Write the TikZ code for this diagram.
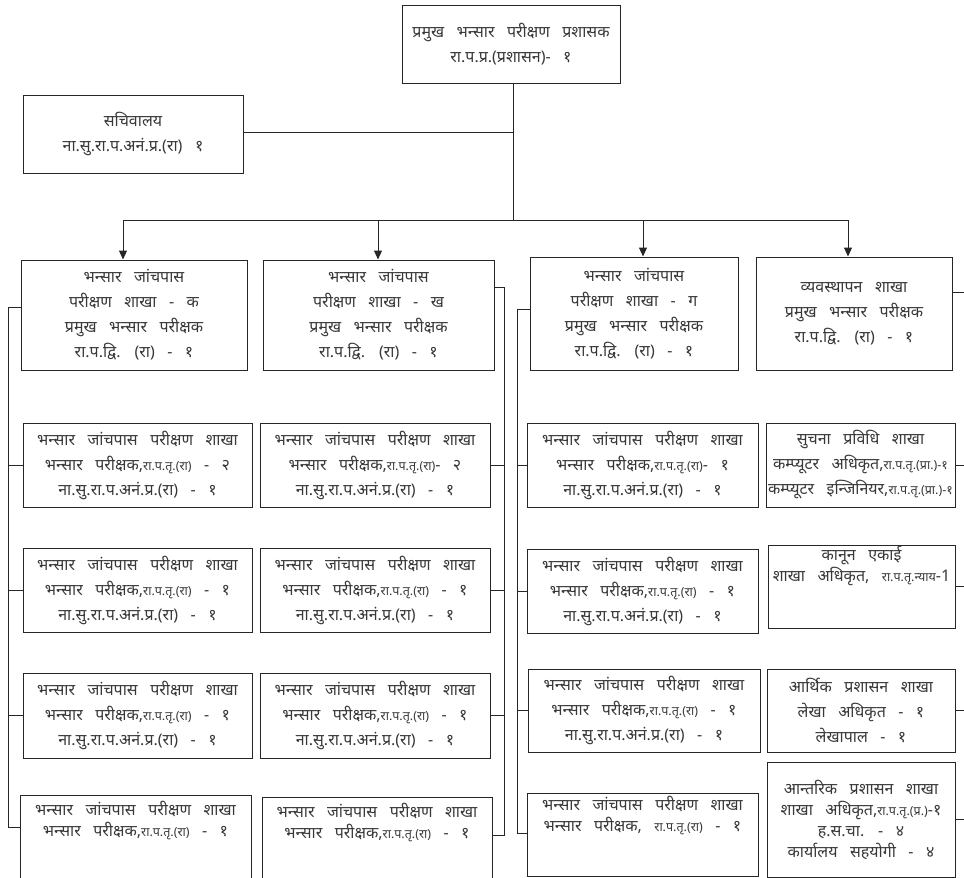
\documentclass[tikz,border=0pt]{standalone}
\usepackage{fontspec}
\newfontfamily\deva[Script=Devanagari, WordSpace=3]{Noto Sans}
\usetikzlibrary{arrows.meta}
\newcommand\smtxt[1]{{\fontsize{12.5}{25}\selectfont #1}}
\begin{document}
\begin{tikzpicture}[x=1pt,y=-1pt,
 box/.style={draw=black!85, line width=1pt, inner sep=0pt, align=center, text=black!78, font=\deva\fontsize{16}{25}\selectfont},
 frame/.style={draw=black!85, line width=1pt, inner sep=0pt},
 txt/.style={inner sep=0pt, align=center, text=black!78, font=\deva\fontsize{16}{21}\selectfont},
 link/.style={draw=black!85, line width=1pt},
 arr/.style={link, -{Triangle[length=9pt,width=8pt]}}]
\useasboundingbox (0,0) rectangle (964,878);
\clip (0,0) rectangle (964,878);

% top level
\node[box, minimum width=218, minimum height=78] (top) at (511,44) {प्रमुख भन्सार परीक्षण प्रशासक\\रा.प.प्र.(प्रशासन)- १};
\node[box, minimum width=220, minimum height=78] (sec) at (133,134) {सचिवालय\\ना.सु.रा.प.अनं.प्र.(रा) १};

% row 1
\node[box, minimum width=226, minimum height=110] (A1) at (134,315) {भन्सार जांचपास\\परीक्षण शाखा - क\\प्रमुख भन्सार परीक्षक\\रा.प.द्वि. (रा) - १};
\node[box, minimum width=231, minimum height=110] (B1) at (378.5,315) {भन्सार जांचपास\\परीक्षण शाखा - ख\\प्रमुख भन्सार परीक्षक\\रा.प.द्वि. (रा) - १};
\node[box, minimum width=208, minimum height=113] (C1) at (634,313.5) {भन्सार जांचपास\\परीक्षण शाखा - ग\\प्रमुख भन्सार परीक्षक\\रा.प.द्वि. (रा) - १};
\node[box, minimum width=196, minimum height=113] (D1) at (854,313.5) {व्यवस्थापन शाखा\\प्रमुख भन्सार परीक्षक\\रा.प.द्वि. (रा) - १};

% row 2
\node[box, minimum width=229, minimum height=84] (A2) at (137.5,465) {भन्सार जांचपास परीक्षण शाखा\\भन्सार परीक्षक,\smtxt{रा.प.तृ.(रा)} - २\\ना.सु.रा.प.अनं.प्र.(रा) - १};
\node[box, minimum width=230, minimum height=84] (B2) at (375,465) {भन्सार जांचपास परीक्षण शाखा\\भन्सार परीक्षक,\smtxt{रा.प.तृ.(रा)}- २\\ना.सु.रा.प.अनं.प्र.(रा) - १};
\node[box, minimum width=231, minimum height=84] (C2) at (642.5,465) {भन्सार जांचपास परीक्षण शाखा\\भन्सार परीक्षक,\smtxt{रा.प.तृ.(रा)}- १\\ना.सु.रा.प.अनं.प्र.(रा) - १};
\node[box, minimum width=189, minimum height=84] (D2) at (860.5,465) {सुचना प्रविधि शाखा\\कम्प्यूटर अधिकृत,\smtxt{रा.प.तृ.(प्रा.)-१}\\कम्प्यूटर इन्जिनियर,\smtxt{रा.प.तृ.(प्रा.)-१}};

% row 3
\node[box, minimum width=229, minimum height=84] (A3) at (137.5,590) {भन्सार जांचपास परीक्षण शाखा\\भन्सार परीक्षक,\smtxt{रा.प.तृ.(रा)} - १\\ना.सु.रा.प.अनं.प्र.(रा) - १};
\node[box, minimum width=230, minimum height=84] (B3) at (375,590) {भन्सार जांचपास परीक्षण शाखा\\भन्सार परीक्षक,\smtxt{रा.प.तृ.(रा)} - १\\ना.सु.रा.प.अनं.प्र.(रा) - १};
\node[box, minimum width=231, minimum height=84] (C3) at (642.5,591) {भन्सार जांचपास परीक्षण शाखा\\भन्सार परीक्षक,\smtxt{रा.प.तृ.(रा)} - १\\ना.सु.रा.प.अनं.प्र.(रा) - १};
\node[frame, minimum width=187, minimum height=83] (D3) at (861.5,586.5) {};
\node[txt] (D3t) at (861.5,566) {कानून एकाई\\शाखा अधिकृत, \smtxt{रा.प.तृ.न्याय}-1};

% row 4
\node[box, minimum width=229, minimum height=85] (A4) at (137.5,715.5) {भन्सार जांचपास परीक्षण शाखा\\भन्सार परीक्षक,\smtxt{रा.प.तृ.(रा)} - १\\ना.सु.रा.प.अनं.प्र.(रा) - १};
\node[box, minimum width=230, minimum height=85] (B4) at (375,715.5) {भन्सार जांचपास परीक्षण शाखा\\भन्सार परीक्षक,\smtxt{रा.प.तृ.(रा)} - १\\ना.सु.रा.प.अनं.प्र.(रा) - १};
\node[box, minimum width=232, minimum height=83] (C4) at (644,710.5) {भन्सार जांचपास परीक्षण शाखा\\भन्सार परीक्षक,\smtxt{रा.प.तृ.(रा)} - १\\ना.सु.रा.प.अनं.प्र.(रा) - १};
\node[box, minimum width=188, minimum height=83] (D4) at (861,710.5) {आर्थिक प्रशासन शाखा\\लेखा अधिकृत - १\\लेखापाल - १};

% row 5
\node[frame, minimum width=231, minimum height=110] (A5) at (135.5,850) {};
\node[txt] (A5t) at (135.5,820) {भन्सार जांचपास परीक्षण शाखा\\भन्सार परीक्षक,\smtxt{रा.प.तृ.(रा)} - १};
\node[frame, minimum width=230, minimum height=110] (B5) at (377,852) {};
\node[txt] (B5t) at (377,822) {भन्सार जांचपास परीक्षण शाखा\\भन्सार परीक्षक,\smtxt{रा.प.तृ.(रा)} - १};
\node[frame, minimum width=231, minimum height=83] (C5) at (642.5,834.5) {};
\node[txt] (C5t) at (642.5,815) {भन्सार जांचपास परीक्षण शाखा\\भन्सार परीक्षक, \smtxt{रा.प.तृ.(रा)} - १};
\node[box, font=\deva\fontsize{16}{21}\selectfont, minimum width=188, minimum height=115] (D5) at (861,819.5) {आन्तरिक प्रशासन शाखा\\शाखा अधिकृत,\smtxt{रा.प.तृ.(प्र.)}-१\\ह.स.चा. - ४\\कार्यालय सहयोगी - ४};

% main connectors
\coordinate (bus) at (513,220);
\coordinate (secj) at (513,132);
\coordinate (busA) at (123,220);
\coordinate (busB) at (378,220);
\coordinate (busC) at (643,220);
\coordinate (busD) at (848,220);
\draw[link] (top.south -| bus) -- (bus);
\draw[link] (sec.east |- secj) -- (secj);
\draw[link] (busA) -- (busD);
\draw[arr] (busA) -- (busA |- A1.north);
\draw[arr] (busB) -- (busB |- B1.north);
\draw[arr] (busC) -- (busC |- C1.north);
\draw[arr] (busD) -- (busD |- D1.north);

% column A (left spine)
\coordinate (lvT) at (8,307);
\coordinate (lvB) at (8,827);
\draw[link] (A1.west |- lvT) -- (lvT) -- (lvB) -- (A5.west |- lvB);
\draw[link] (A2.west) -- (A2.west -| lvT);
\draw[link] (A3.west) -- (A3.west -| lvT);
\draw[link] (A4.west) -- (A4.west -| lvT);

% column B (right spine)
\coordinate (rvT) at (504,287);
\coordinate (rvB) at (504,835);
\draw[link] (B1.east |- rvT) -- (rvT) -- (rvB) -- (B5.east |- rvB);
\draw[link] (B2.east) -- (B2.east -| rvT);
\draw[link] (B3.east) -- (B3.east -| rvT);
\draw[link] (B4.east) -- (B4.east -| rvT);

% column C (left spine)
\coordinate (cvT) at (517,309);
\coordinate (cvB) at (517,833);
\draw[link] (C1.west |- cvT) -- (cvT) -- (cvB) -- (C5.west |- cvB);
\draw[link] (C2.west) -- (C2.west -| cvT);
\draw[link] (C3.west) -- (C3.west -| cvT);
\draw[link] (C4.west) -- (C4.west -| cvT);

% column D (to right edge)
\coordinate (edge) at (964,0);
\coordinate (d1j) at (964,292);
\draw[link] (D1.east |- d1j) -- (d1j);
\draw[link] (D2.east) -- (D2.east -| edge);
\draw[link] (D3.east) -- (D3.east -| edge);
\draw[link] (D4.east) -- (D4.east -| edge);
\draw[link] (D5.east) -- (D5.east -| edge);
\end{tikzpicture}
\end{document}
